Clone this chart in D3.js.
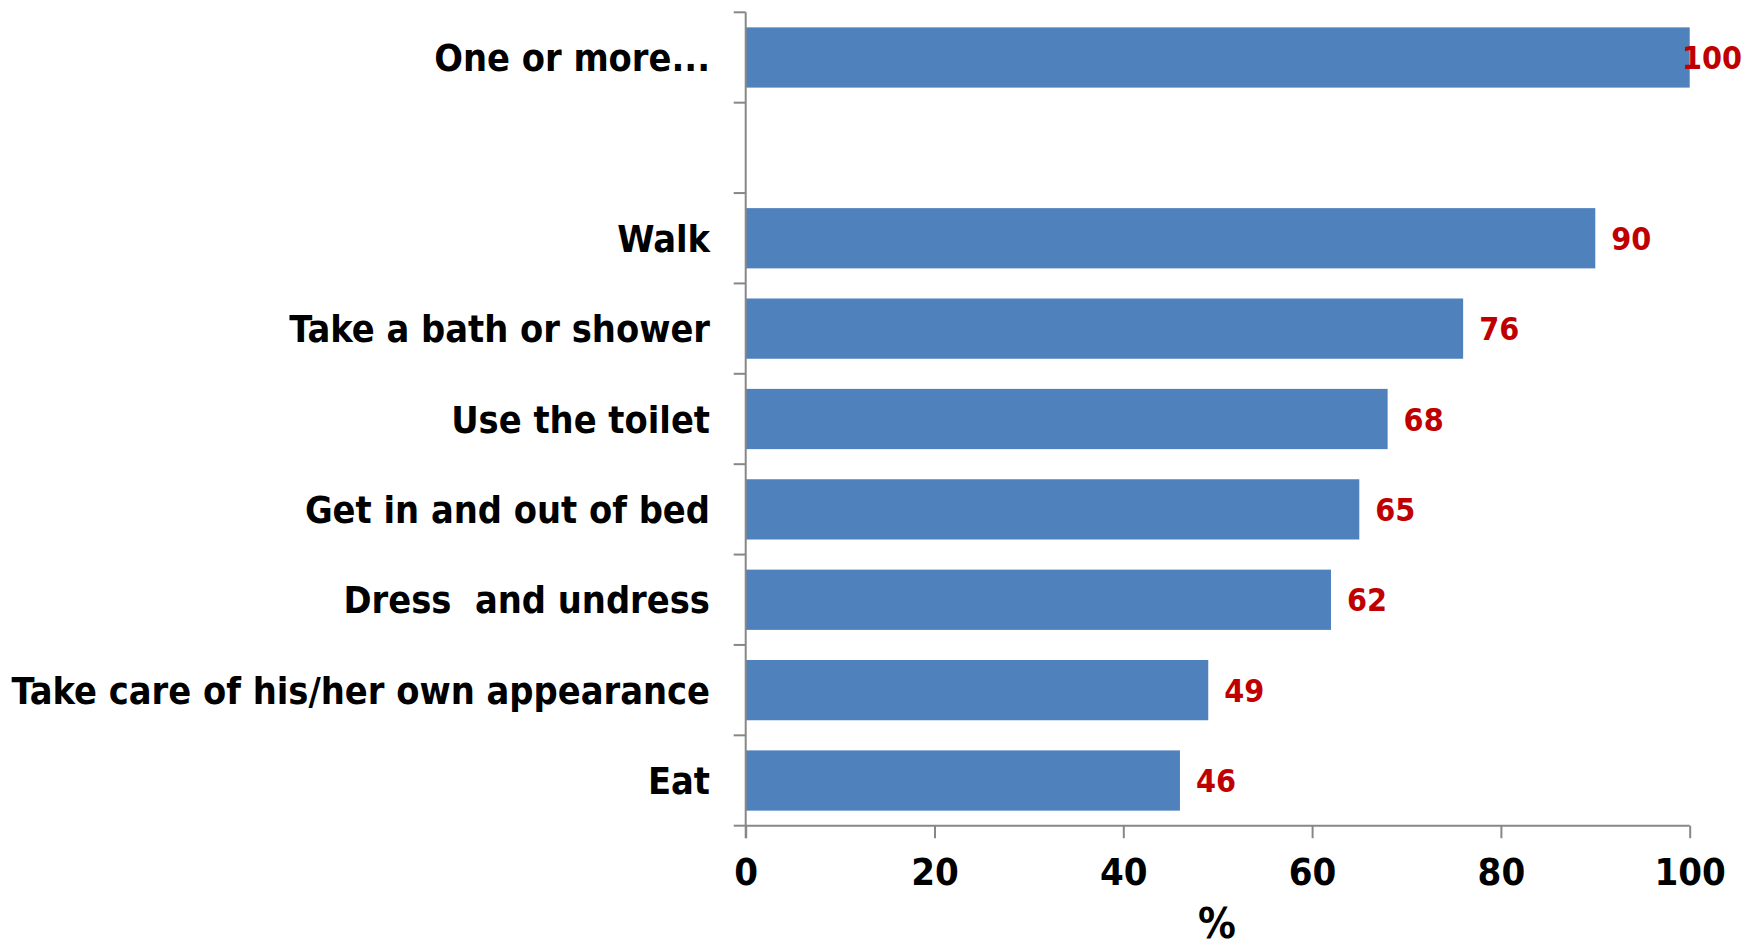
<!DOCTYPE html>
<html>
<head>
<meta charset="utf-8">
<script src="https://cdn.jsdelivr.net/npm/d3@7"></script>
<style>
  body { margin: 0; background: #fff; }
  text { font-family: "DejaVu Sans Condensed", "DejaVu Sans", sans-serif; font-weight: bold; font-stretch: condensed; white-space: pre; }
</style>
</head>
<body>
<div id="chart"></div>
<script>
// categories top to bottom, the empty one is the gap row
var categories = ['One or more...', '', 'Walk', 'Take a bath or shower', 'Use the toilet',
  'Get in and out of bed', 'Dress  and undress', 'Take care of his/her own appearance', 'Eat']
var values = [100, null, 90, 76, 68, 65, 62, 49, 46]
var xTicks = [0, 20, 40, 60, 80, 100]
var xTitle = '%'

;(function(){
  var W = 1747, H = 949
  var left = 745.7, right = 1689.7, topY = 12.3, bottomY = 825.7

  var svg = d3.select('#chart').append('svg')
    .attr('width', W)
    .attr('height', H)

  var x = d3.scaleLinear().domain([0, 100]).range([left, right])
  var keys = categories.map(function(c, i){ return i })
  var y = d3.scaleBand().domain(keys).range([topY, bottomY])
    .paddingInner(1/3).paddingOuter(1/6)

  var axisColor = '#878787'

  // bars
  keys.forEach(function(k){
    if(values[k] === null) return
    svg.append('rect')
      .attr('x', x(0))
      .attr('y', y(k))
      .attr('width', x(values[k]) - x(0))
      .attr('height', y.bandwidth())
      .attr('fill', '#4F81BD')
  })

  // y axis line and ticks at band boundaries
  svg.append('line')
    .attr('x1', left).attr('x2', left)
    .attr('y1', topY).attr('y2', bottomY + 12.5)
    .attr('stroke', axisColor).attr('stroke-width', 2)
  d3.range(categories.length + 1).forEach(function(i){
    var yy = topY + i * y.step()
    svg.append('line')
      .attr('x1', left - 12).attr('x2', left)
      .attr('y1', yy).attr('y2', yy)
      .attr('stroke', axisColor).attr('stroke-width', 2)
  })

  // x axis
  var xAxis = svg.append('g')
    .attr('transform', 'translate(0,' + bottomY + ')')
    .call(d3.axisBottom(x).tickValues(xTicks).tickSize(12.5).tickPadding(20))
  xAxis.select('.domain').attr('stroke', axisColor).attr('stroke-width', 2)
    .attr('d', 'M' + left + ',0H' + right)
  xAxis.selectAll('.tick line').attr('stroke', axisColor).attr('stroke-width', 2)
  xAxis.selectAll('.tick text')
    .attr('fill', '#000')
    .style('font-size', '38px')
    .attr('dy', '0.71em')
  xAxis.attr('font-family', null).attr('font-size', null)

  svg.append('text')
    .attr('x', 1217).attr('y', 938)
    .attr('text-anchor', 'middle')
    .style('font-size', '42px')
    .text(xTitle)

  // category labels
  keys.forEach(function(k){
    if(categories[k] === '') return
    svg.append('text')
      .attr('x', 710)
      .attr('y', y(k) + y.bandwidth() / 2)
      .attr('dy', '0.36em')
      .attr('text-anchor', 'end')
      .style('font-size', '37.6px')
      .attr('fill', '#000')
      .text(categories[k])
  })

  // value labels
  keys.forEach(function(k){
    if(values[k] === null) return
    var t = svg.append('text')
      .attr('y', y(k) + y.bandwidth() / 2)
      .attr('dy', '0.36em')
      .style('font-size', '32px')
      .attr('fill', '#C00000')
      .text(values[k])
    var tx = x(values[k]) + 16
    var tw = t.node().getComputedTextLength()
    if(tx + tw > 1742) tx = 1742 - tw
    t.attr('x', tx)
  })
})()
</script>
</body>
</html>
